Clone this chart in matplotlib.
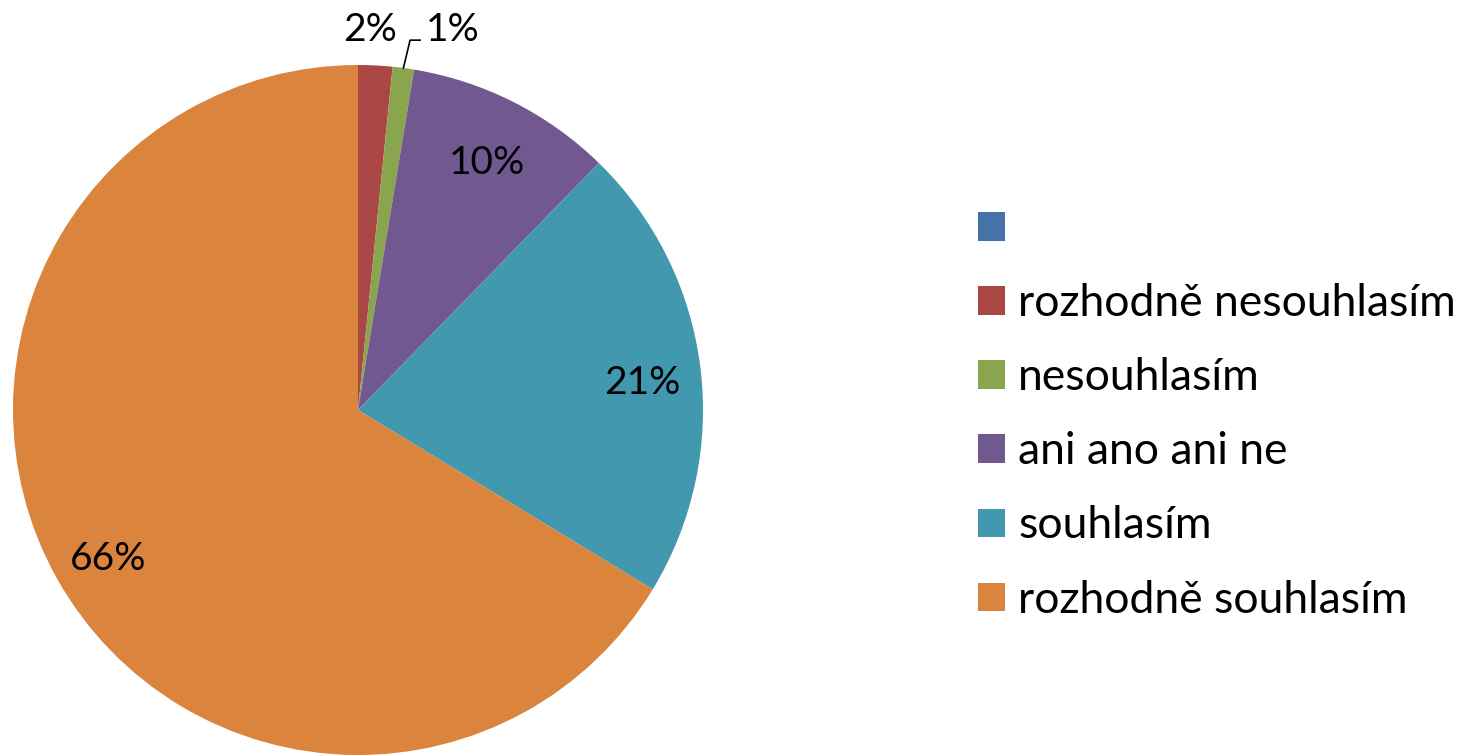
import matplotlib
matplotlib.use("Agg")
import matplotlib.pyplot as plt
from matplotlib.patches import Patch
import numpy as np

categories = ["", "rozhodně nesouhlasím", "nesouhlasím", "ani ano ani ne", "souhlasím", "rozhodně souhlasím"]
values = [0.0, 1.6, 1.0, 9.7, 21.4, 66.3]
labels = ["", "2%", "1%", "10%", "21%", "66%"]
colors = ["#4572A7", "#AA4643", "#89A54E", "#71588F", "#4198AF", "#DB843D"]

plt.rcParams['font.family'] = ['Lato', 'DejaVu Sans']

W, H = 1476, 756
R = 345.0
cx, cy = 358.0, 410.0
fig = plt.figure(figsize=(W / 100, H / 100), dpi=100)
ax = fig.add_axes([0, 0, 1, 1])

wedges, _ = ax.pie(values, colors=colors, startangle=90, counterclock=False,
                   radius=1.0, center=(0, 0), frame=True,
                   wedgeprops=dict(linewidth=0))
ax.set_xlim(-cx / R, (W - cx) / R)
ax.set_ylim(-(H - cy) / R, cy / R)
ax.set_aspect("auto")
ax.axis("off")

fs = 28
for w, lab in zip(wedges, labels):
    if not lab:
        continue
    ang = np.deg2rad((w.theta1 + w.theta2) / 2)
    if lab == "2%":
        ax.text(0.035, 1.10, lab, ha="center", va="center", fontsize=fs)
    elif lab == "1%":
        x0, y0 = np.cos(ang), np.sin(ang)
        ax.plot([x0, 0.151, 0.180], [y0, 1.072, 1.072], color="black", lw=1.2)
        ax.text(0.275, 1.10, lab, ha="center", va="center", fontsize=fs)
    else:
        d = 0.83
        ax.text(d * np.cos(ang), d * np.sin(ang) - 0.025, lab, ha="center", va="center", fontsize=fs)

lfs = 32
handles = [Patch(facecolor=c, edgecolor="none") for c in colors]
leg = fig.legend(handles, [c if c else " " for c in categories],
                 loc="upper left", bbox_to_anchor=(978 / W, 1 - 209 / H),
                 frameon=False, fontsize=lfs, handlelength=0.61, handleheight=0.61,
                 handletextpad=0.29, labelspacing=0.745, borderaxespad=0, borderpad=0)

fig.savefig("out.png", dpi=100)
